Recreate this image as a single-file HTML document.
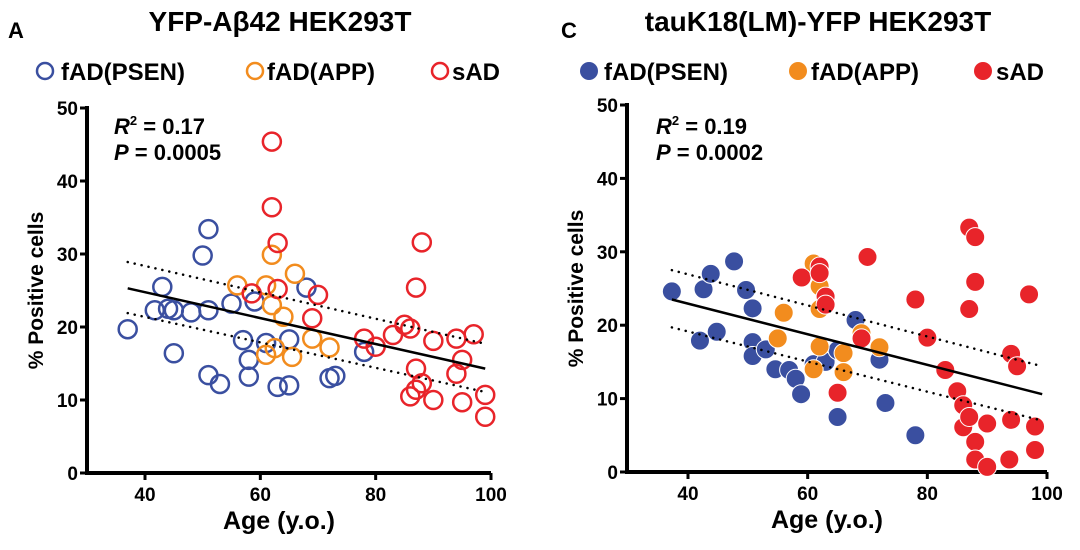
<!DOCTYPE html>
<html><head><meta charset="utf-8"><style>
body{margin:0;background:#fff;}
svg text{font-family:"Liberation Sans",Arial,sans-serif;font-weight:bold;}
</style></head><body>
<svg id="chart" width="1080" height="545" xmlns="http://www.w3.org/2000/svg">
<g>
<text x="8" y="38" font-size="22">A</text>
<text x="280" y="31" font-size="28" text-anchor="middle">YFP-Aβ42 HEK293T</text>
<g font-size="24">
<circle cx="45" cy="71" r="8" fill="none" stroke="#3a4fa0" stroke-width="2.5"/>
<text x="61" y="80">fAD(PSEN)</text>
<circle cx="255" cy="71" r="8" fill="none" stroke="#f28c1e" stroke-width="2.5"/>
<text x="267" y="80">fAD(APP)</text>
<circle cx="440" cy="71" r="8" fill="none" stroke="#e8242a" stroke-width="2.5"/>
<text x="452" y="80">sAD</text>
</g>
<text x="114" y="134" font-size="22"><tspan font-style="italic">R</tspan><tspan font-size="13" dy="-9">2</tspan><tspan dy="9"> = 0.17</tspan></text>
<text x="114" y="160" font-size="22"><tspan font-style="italic">P</tspan> = 0.0005</text>
<g id="plotA"></g>
</g>
<g>
<text x="561" y="38" font-size="22">C</text>
<text x="818" y="31" font-size="28" text-anchor="middle">tauK18(LM)-YFP HEK293T</text>
<g font-size="24">
<circle cx="589" cy="71" r="9" fill="#3a4fa0"/>
<text x="604" y="80">fAD(PSEN)</text>
<circle cx="798" cy="71" r="9" fill="#f28c1e"/>
<text x="811" y="80">fAD(APP)</text>
<circle cx="983" cy="71" r="9" fill="#e8242a"/>
<text x="996" y="80">sAD</text>
</g>
<text x="656" y="134" font-size="22"><tspan font-style="italic">R</tspan><tspan font-size="13" dy="-9">2</tspan><tspan dy="9"> = 0.19</tspan></text>
<text x="656" y="160" font-size="22"><tspan font-style="italic">P</tspan> = 0.0002</text>
<g id="plotC"></g>
</g>
</svg>
<script>
const xTicks=[40,60,80,100];
const yTicks=[0,10,20,30,40,50];
// Panel A data
const aPsenAge=[37,43,41.7,44,45,48,51,45,51,50,51,53,55,59,57,58,58,61,65,63,65,68,72,73,78];
const aPsenVal=[19.7,25.5,22.3,22.5,22.3,22,22.3,16.4,33.4,29.8,13.4,12.2,23.2,23.5,18.2,15.5,13.2,17.8,18.3,11.8,12,25.4,13,13.3,16.6];
const aAppAge=[56,61,62,62,64,66,61,65.5,69,72,62.5];
const aAppVal=[25.7,25.7,29.9,23,21.4,27.3,16.2,15.9,18.4,17.2,17.1];
const aSadAge=[62,62,63,63,58.5,70,69,78,80,83,85,86,88,87,90,94,97,95,94,87,88,86,87,90,95,99,99];
const aSadVal=[45.4,36.4,31.5,25.2,24.6,24.4,21.2,18.4,17.3,18.9,20.3,19.8,31.6,25.4,18.1,18.4,19,15.5,13.6,14.3,12.3,10.5,11.4,10,9.7,10.7,7.7];
const aFitAge=[37,99];
const aFit=[25.3,14.3];
const aUpper=[28.9,17.7];
const aLower=[21.9,11.1];
// Panel C data
const cPsenAge=[37.3,42,42.6,43.8,44.8,47.7,49.7,50.8,50.8,50.8,53,54.6,56.9,58,58.9,61,63,65,65,68,72,73,78];
const cPsenVal=[24.6,17.9,24.9,27,19.1,28.7,24.8,22.3,17.7,15.8,16.7,14,13.9,12.7,10.6,14.7,15,16.6,7.5,20.7,15.3,9.4,5];
const cAppAge=[56,55,61,62,62,62,61,66,66,69,72];
const cAppVal=[21.7,18.2,28.4,25.3,22.2,17.1,14,16.2,13.6,18.9,17];
const cSadAge=[59,62,62,63,63,70,65,69,78,80,83,85,86,86,87,87,87,88,88,88,88,90,90,97,94,95,94,93.7,98,98];
const cSadVal=[26.5,28,27.1,23.9,22.8,29.3,10.8,18.2,23.5,18.3,13.9,11,9.1,6.1,7.5,22.2,33.3,32,25.9,4.1,1.7,6.6,0.7,24.2,16.1,14.4,7.1,1.7,6.2,3];
const cFitAge=[37.3,99.2];
const cFit=[23.5,10.6];
const cUpper=[27.5,14.4];
const cLower=[19.7,7.0];

const NS='http://www.w3.org/2000/svg';
function mk(parent,tag,attrs){const e=document.createElementNS(NS,tag);for(const k in attrs)e.setAttribute(k,attrs[k]);parent.appendChild(e);return e;}

function drawPanel(g,cfg){
  const sx=v=>cfg.x40+(v-40)*(cfg.x100-cfg.x40)/60;
  const sy=v=>cfg.y0-(v)*(cfg.y0-cfg.y50)/50;
  const ax=mk(g,'path',{d:`M${cfg.axX},${cfg.y50-2}V${cfg.y0}H${cfg.x100}`,fill:'none',stroke:'#000','stroke-width':4});
  
  
  yTicks.forEach(t=>{
    const l=mk(g,'line',{x1:cfg.axX-7,x2:cfg.axX,y1:sy(t),y2:sy(t),stroke:'#000','stroke-width':3});
    
    
    const tx=mk(g,'text',{x:cfg.axX-9,y:sy(t)+7,'font-size':19,'text-anchor':'end'});
    tx.textContent=t;
    
    
  });
  xTicks.forEach(t=>{
    const l=mk(g,'line',{x1:sx(t),x2:sx(t),y1:cfg.y0,y2:cfg.y0+7,stroke:'#000','stroke-width':3});
    
    
    const tx=mk(g,'text',{x:sx(t),y:cfg.y0+28,'font-size':19,'text-anchor':'middle'});
    tx.textContent=t;
    
    
  });
  const xt=mk(g,'text',{x:(cfg.axX+cfg.x100)/2-10,y:cfg.y0+56,'font-size':25,'text-anchor':'middle'});
  xt.textContent='Age (y.o.)';
  
  
  const yt=mk(g,'text',{x:0,y:0,'font-size':21,'text-anchor':'middle',transform:`translate(${cfg.axX-44},${sy(25)}) rotate(-90)`});
  yt.textContent='% Positive cells';
  
  
  const series=[['psen','#3a4fa0',cfg.psen],['app','#f28c1e',cfg.app],['sad','#e8242a',cfg.sad]];
  series.forEach(([n,col,d])=>{
    d[0].forEach((age,i)=>{
      const c=mk(g,'circle',cfg.filled?{cx:sx(age),cy:sy(d[1][i]),r:9.5,fill:col,stroke:'#fff','stroke-width':1}:{cx:sx(age),cy:sy(d[1][i]),r:9,fill:'none',stroke:col,'stroke-width':2.5});
      
      
    });
  });
  [[cfg.upper,'ci-upper'],[cfg.lower,'ci-lower']].forEach(([v,name])=>{
    const l=mk(g,'line',{x1:sx(cfg.fitAge[0]),y1:sy(v[0]),x2:sx(cfg.fitAge[1]),y2:sy(v[1]),stroke:'#000','stroke-width':2.5,'stroke-dasharray':'0.1 7','stroke-linecap':'round'});
    
    
  });
  const f=mk(g,'line',{x1:sx(cfg.fitAge[0]),y1:sy(cfg.fit[0]),x2:sx(cfg.fitAge[1]),y2:sy(cfg.fit[1]),stroke:'#000','stroke-width':2.5});
  
  
}
drawPanel(document.getElementById('plotA'),{axX:87,x40:145,x100:491,y0:473,y50:108,filled:false,
  psen:[aPsenAge,aPsenVal],app:[aAppAge,aAppVal],sad:[aSadAge,aSadVal],fitAge:aFitAge,fit:aFit,upper:aUpper,lower:aLower});
drawPanel(document.getElementById('plotC'),{axX:627,x40:688,x100:1047,y0:472,y50:105,filled:true,
  psen:[cPsenAge,cPsenVal],app:[cAppAge,cAppVal],sad:[cSadAge,cSadVal],fitAge:cFitAge,fit:cFit,upper:cUpper,lower:cLower});
</script>
</body></html>
